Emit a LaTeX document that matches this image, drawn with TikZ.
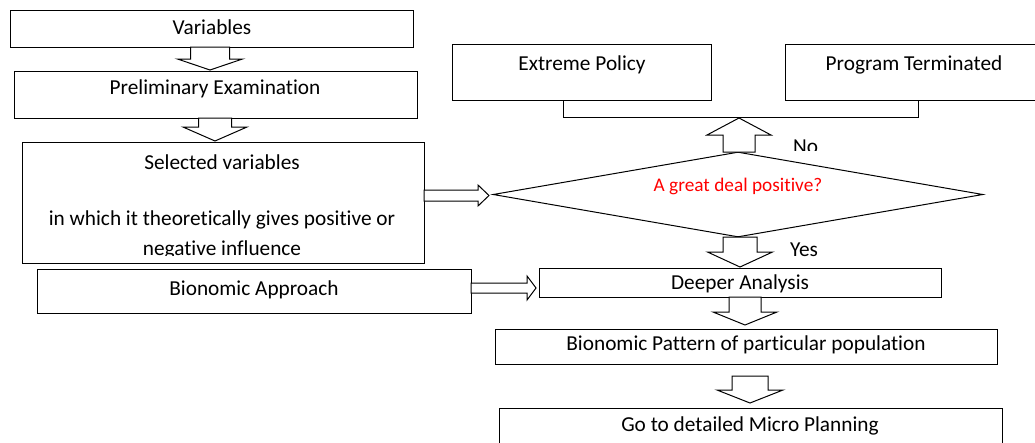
\documentclass[tikz,border=0pt]{standalone}
\usepackage{fontspec}
\setmainfont{Carlito}[RawFeature={-liga;-clig}]
\usetikzlibrary{calc,shapes.geometric}
\definecolor{askred}{RGB}{255,0,0}
\tikzset{
  box/.style={draw, line width=1pt, fill=white, rectangle, inner sep=0pt, anchor=north west},
  lbl/.style={inner sep=0pt, font=\fontsize{21.3}{25}\selectfont, text height=14pt, text depth=4pt},
  blk/.style={draw, line width=1pt, fill=white, line join=miter},
  link/.style={draw, line width=1pt},
}
% hollow block arrow: #1 tail, #2 tip, #3 head length, #4 shaft half width, #5 head half width
\newcommand\blockarrow[5]{%
  \coordinate (hb) at ($(#2)!#3!(#1)$);
  \draw[blk] ($(#1)!#4!90:(#2)$) -- ($(hb)!#4!90:(#2)$) -- ($(hb)!#5!90:(#2)$) -- (#2)
    -- ($(hb)!#5!-90:(#2)$) -- ($(hb)!#4!-90:(#2)$) -- ($(#1)!#4!-90:(#2)$) -- cycle;}
\begin{document}
\begin{tikzpicture}[x=1pt,y=-1pt]
\useasboundingbox (0,0) rectangle (1035,442);
\fill[white] (0,0) rectangle (1035,442);

% left column
\node[box, minimum width=403pt, minimum height=37pt] (var) at (10,10) {};
\node[lbl] (vart) at (212,29) {Variables};
\node[box, minimum width=403pt, minimum height=47pt] (pre) at (14,71) {};
\node[lbl] (pret) at (215,89) {Preliminary Examination};
\node[box, minimum width=402pt, minimum height=121pt] (sel) at (22,142) {};
\node[lbl] (selt1) at (222,164) {Selected variables};
\node[lbl] (selt2) at (222,220) {in which it theoretically gives positive or};
\begin{scope}
  \clip (sel.north west) rectangle (424,255);
  \node[lbl] (selt3) at (222,250) {negative influence};
\end{scope}
\node[box, minimum width=434pt, minimum height=44pt] (bio) at (37,269) {};
\node[lbl] (biot) at (254,290) {Bionomic Approach};

% decision and outcomes
\node[draw, line width=1pt, diamond, inner sep=0pt, minimum width=490pt, minimum height=85pt] (dec) at (738,194.5) {};
\node[lbl, text=askred, font=\fontsize{19.3}{23}\selectfont] (dect) at (738,186) {A great deal positive?};
\node[box, minimum width=259pt, minimum height=56pt] (ext) at (452,44) {};
\node[lbl] (extt) at (582,65) {Extreme Policy};
\node[box, minimum width=258pt, minimum height=56pt] (prog) at (785,44) {};
\node[lbl] (progt) at (914,65) {Program Terminated};
\coordinate (eL) at (563,100);
\coordinate (pR) at (918,100);
\draw[link] (eL) -- ++(0,17) -| (pR);

% right column
\node[box, minimum width=402pt, minimum height=29pt] (deep) at (539,268) {};
\node[lbl] (deept) at (740,284) {Deeper Analysis};
\node[box, minimum width=502pt, minimum height=35pt] (pat) at (495,329) {};
\node[lbl] (patt) at (746,345) {Bionomic Pattern of particular population};
\node[box, minimum width=503pt, minimum height=50pt] (go) at (499,408) {};
\node[lbl] (got) at (750,426) {Go to detailed Micro Planning};

% arrow end points
\coordinate (a1s) at (210,47);  \coordinate (a1e) at (210,70);
\coordinate (a2s) at (215,118); \coordinate (a2e) at (215,141);
\coordinate (h1s) at (424,195.5); \coordinate (h1e) at (489,195.5);
\coordinate (nos) at (739,152); \coordinate (noe) at (739,118);
\coordinate (yss) at (740,237); \coordinate (yse) at (740,267);
\coordinate (h2s) at (471,288); \coordinate (h2e) at (536,288);
\coordinate (a5s) at (745,297); \coordinate (a5e) at (745,325);
\coordinate (a6s) at (750,376); \coordinate (a6e) at (750,403);

\blockarrow{a1s}{a1e}{11pt}{19.5pt}{32.5pt}
\blockarrow{a2s}{a2e}{14pt}{16.5pt}{32pt}
\blockarrow{h1s}{h1e}{11pt}{5.5pt}{10.5pt}
\blockarrow{nos}{noe}{17pt}{16pt}{32pt}
\blockarrow{yss}{yse}{15pt}{17pt}{32.5pt}
\blockarrow{h2s}{h2e}{9pt}{5pt}{12pt}
\blockarrow{a5s}{a5e}{13pt}{16pt}{32pt}
\blockarrow{a6s}{a6e}{13pt}{18pt}{33pt}

% branch labels, cut off by their frames
\begin{scope}
  \clip (780,120) rectangle (850,150);
  \node[lbl, anchor=west] (no) at (793,148) {No};
\end{scope}
\begin{scope}
  \clip (780,238) rectangle (850,256);
  \node[lbl, anchor=west] (yes) at (790,251) {Yes};
\end{scope}
\end{tikzpicture}
\end{document}
